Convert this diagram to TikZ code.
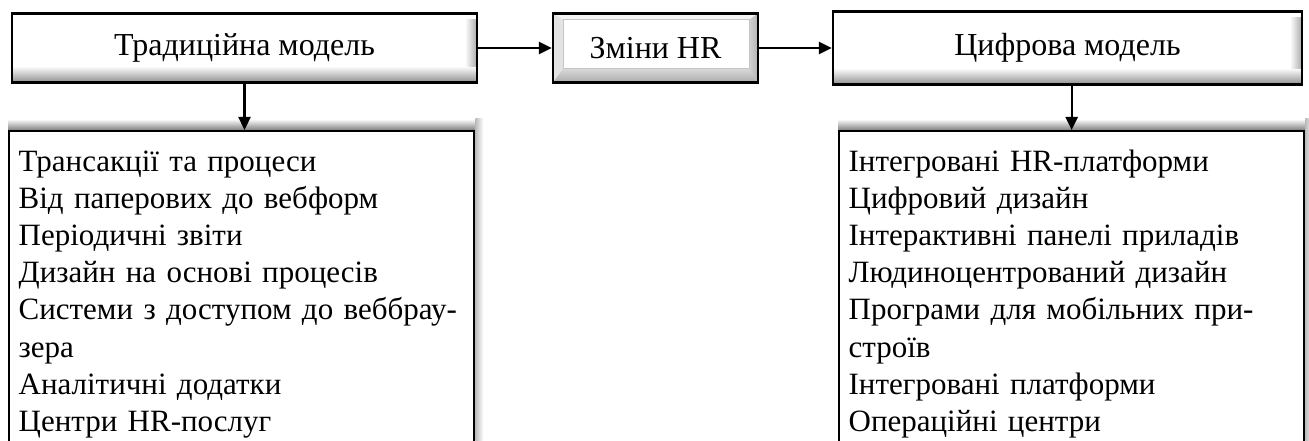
\documentclass[tikz,border=0pt]{standalone}
\usepackage{fontspec}
\setmainfont{Liberation Serif}
\usetikzlibrary{arrows.meta, backgrounds}
\definecolor{Shadow}{RGB}{130, 130, 130}

\begin{document}
\begin{tikzpicture}[
        x=1pt, y=-1pt,
        line width=2.3pt,
        >={Triangle[length=13pt, width=12pt]},
        head/.style = {draw, rectangle, fill=white, inner sep=0pt,
            font=\fontsize{32}{36}\selectfont,
            path picture={
                \coordinate (sw) at (path picture bounding box.south west);
                \coordinate (se) at (path picture bounding box.south east);
                \coordinate (ne) at (path picture bounding box.north east);
                \foreach \i [evaluate=\i as \o using 0.4-0.027*\i] in {0,...,14}
                    \fill[black, opacity=\o] ([yshift=\i pt]sw)
                        rectangle ([yshift=\i pt+1pt]se);
                \foreach \i [evaluate=\i as \o using 0.3-0.027*\i] in {0,...,10}
                    \fill[black, opacity=\o] ([shift={(-\i pt,15pt)}]se)
                        rectangle ([shift={(-\i pt-1pt,-6pt)}]ne);
            }},
        button/.style = {draw, rectangle, fill=white, inner sep=0pt,
            font=\fontsize{32}{36}\selectfont,
            path picture={
                \coordinate (sw) at (path picture bounding box.south west);
                \coordinate (se) at (path picture bounding box.south east);
                \coordinate (ne) at (path picture bounding box.north east);
                \coordinate (nw) at (path picture bounding box.north west);
                \fill[gray!8] (nw) -- (ne) -- ([shift={(-9pt,-6pt)}]ne)
                    -- ([shift={(10pt,-6pt)}]nw) -- cycle;
                \fill[gray!22] (nw) -- (sw) -- ([shift={(10pt,14pt)}]sw)
                    -- ([shift={(10pt,-6pt)}]nw) -- cycle;
                \shade[top color=gray!30, bottom color=gray!65]
                    (sw) -- (se) -- ([shift={(-9pt,14pt)}]se)
                    -- ([shift={(10pt,14pt)}]sw) -- cycle;
                \shade[left color=gray!35, right color=gray!60]
                    (se) -- (ne) -- ([shift={(-9pt,-6pt)}]ne)
                    -- ([shift={(-9pt,14pt)}]se) -- cycle;
                \draw[gray!45, line width=0.6pt] ([shift={(10pt,14pt)}]sw)
                    rectangle ([shift={(-9pt,-6pt)}]ne);
            }},
        listbox/.style = {draw, rectangle, fill=white, anchor=north west,
            align=left, text width=446pt, inner xsep=9.5pt, inner ysep=14pt,
            font=\fontsize{31}{37.2}\selectfont}
    ]
    \useasboundingbox (0,0) rectangle (1309,441);
    \clip (0,0) rectangle (1309,441);

    \node (trad) at (244.5,48) [head, minimum width=465pt, minimum height=69pt]
        {Традиційна модель};
    \node (hr)   at (655.5,48) [button, minimum width=205pt, minimum height=69pt]
        {Зміни HR};
    \node (dig)  at (1067.5,48) [head, minimum width=469pt, minimum height=73pt]
        {Цифрова модель};

    \node (tradlist) at (8,130) [listbox] {\strut Трансакції та процеси\\
        Від паперових до вебформ\\
        Періодичні звіти\\
        Дизайн на основі процесів\\
        Системи з доступом до веббрау-\\
        зера\\
        Аналітичні додатки\\
        Центри HR-послуг\strut};
    \node (diglist) at (838,130) [listbox] {\strut Інтегровані HR-платформи\\
        Цифровий дизайн\\
        Інтерактивні панелі приладів\\
        Людиноцентрований дизайн\\
        Програми для мобільних при-\\
        строїв\\
        Інтегровані платформи\\
        Операційні центри\strut};

    % shadows behind the lists
    \begin{scope}[on background layer]
        \foreach \b in {tradlist, diglist} {
            \shade[top color=white, bottom color=Shadow]
                ([yshift=11pt]\b.north west) rectangle ([xshift=8pt]\b.north east);
            \shade[left color=Shadow!55, right color=white]
                ([yshift=11pt]\b.north east) rectangle ([xshift=8pt]\b.south east);
        }
    \end{scope}

    \draw[->] (trad.south) -- (trad.south |- tradlist.north);
    \draw[->] (trad) -- (hr);
    \draw[->] (hr) -- (dig);
    \draw[->] (dig.south -| diglist.north) -- (diglist.north);
\end{tikzpicture}
\end{document}
